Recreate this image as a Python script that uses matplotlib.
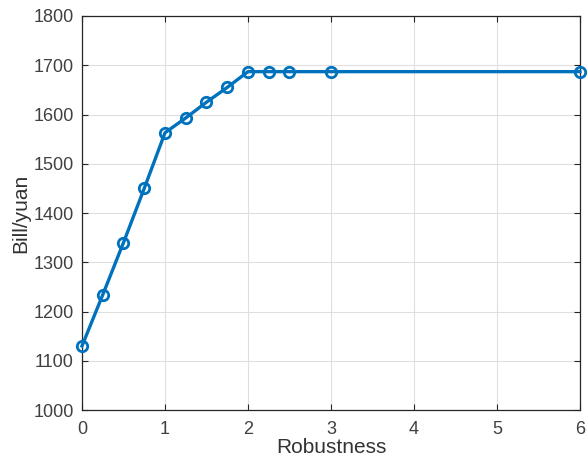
import matplotlib
matplotlib.use('Agg')
import matplotlib.pyplot as plt

# datos
robustness = [0, 0.25, 0.5, 0.75, 1, 1.25, 1.5, 1.75, 2, 2.25, 2.5, 3, 6]
bill = [1130, 1234, 1340, 1450, 1563, 1593, 1625, 1655, 1687, 1687, 1687, 1687, 1687]
xticks = [0, 1, 2, 3, 4, 5, 6]
yticks = [1000, 1100, 1200, 1300, 1400, 1500, 1600, 1700, 1800]

plt.rcParams['font.family'] = ['Liberation Sans', 'DejaVu Sans']

fig = plt.figure(figsize=(5.87, 4.57), dpi=100)
ax = fig.add_axes([0.1397, 0.1028, 0.8483, 0.8622])

ax.plot(robustness, bill, color='#0072BD', linewidth=2.4, marker='o',
        markersize=7.5, markerfacecolor='none', markeredgewidth=2, clip_on=False, zorder=3)

ax.set_xlim(0, 6)
ax.set_ylim(1000, 1800)
ax.set_xticks(xticks)
ax.set_yticks(yticks)
ax.grid(True, color='#dfdfdf', linewidth=0.8)
ax.set_axisbelow(True)

ax.tick_params(direction='in', top=True, right=True, labelsize=13, colors='#262626',
               labelcolor='#404040', length=4, width=0.8)
ax.tick_params(axis='x', pad=8)
ax.tick_params(axis='y', pad=6)
for s in ax.spines.values():
    s.set_color('#262626')
    s.set_linewidth(0.9)

ax.set_xlabel('Robustness', fontsize=15, color='#333333', labelpad=0)
ax.set_ylabel('Bill/yuan', fontsize=15, color='#333333', labelpad=2)

fig.savefig('out.png', dpi=100)
